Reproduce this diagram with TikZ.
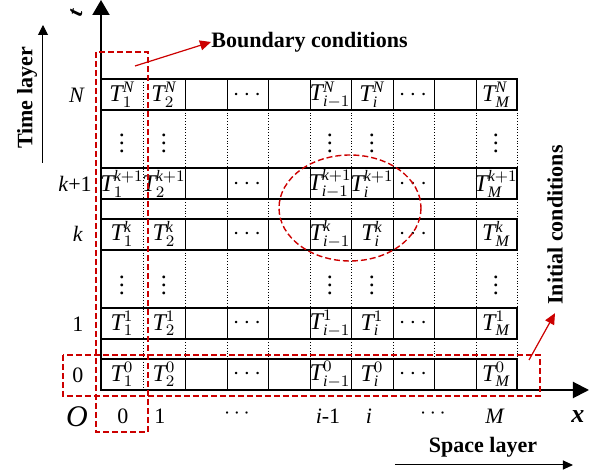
\documentclass[tikz,border=0pt]{standalone}
\usepackage{fontspec}
\setmainfont{Liberation Serif}
\usetikzlibrary{arrows.meta}
\definecolor{bcred}{RGB}{204,0,0}

\begin{document}
\begin{tikzpicture}[x=0.5pt,y=-0.5pt,
  rowbox/.style={line width=1pt},
  gridline/.style={densely dotted,line width=0.4pt},
  cellline/.style={line width=0.4pt},
  redbox/.style={bcred,dash pattern=on 3pt off 1.5pt,line width=0.7pt},
  redarrow/.style={bcred,line width=0.6pt,-{Triangle[width=5pt,length=5.5pt]}},
  cell/.style={inner sep=0pt,font=\fontsize{12}{14}\selectfont},
  lab/.style={inner sep=0pt,font=\fontsize{11}{13}\selectfont},
  title/.style={inner sep=0pt,font=\bfseries\fontsize{11}{13}\selectfont}]

\useasboundingbox (0,0) rectangle (602,475);

% Grid
\foreach \x in {143,185,227,268,310,351,393,434,476,517}
  \draw[gridline] (\x,79) -- (\x,390);

% Rows
\foreach \y in {79,168,219,308,359} {
  \foreach \x in {185,227,268,310,351,393,434,476}
    \draw[cellline] (\x,\y) -- (\x,\y+31);
  \draw[rowbox] (101,\y) rectangle (517,\y+31);
}

% Cells
\foreach \r/\y/\s in {N/95/\mathit{N},kp/184/\mathit{k}+1,k/234/\mathit{k},one/323.5/1,zero/374.5/0} {
  \node[cell] (\r-1) at (122,\y) {$\mathit{T}_1^{\s}$};
  \node[cell] (\r-2) at (164,\y) {$\mathit{T}_2^{\s}$};
  \node[cell] (\r-da) at (247,\y) {$\cdots$};
  \node[cell] (\r-im) at (330,\y) {$\mathit{T}_{\mathit{i}-1}^{\s}$};
  \node[cell] (\r-i) at (372,\y) {$\mathit{T}_{\mathit{i}}^{\s}$};
  \node[cell] (\r-db) at (413,\y) {$\cdots$};
  \node[cell] (\r-M) at (496,\y) {$\mathit{T}_{\mathit{M}}^{\s}$};
}
\foreach \x in {122,164,330,372,496} {
  \node[cell] (vu-\x) at (\x,137) {$\vdots$};
  \node[cell] (vl-\x) at (\x,279) {$\vdots$};
}

% Axes
\coordinate (O) at (101,390);
\coordinate (tend) at (101,0);
\coordinate (xend) at (589,390);
\draw[line width=1pt,-{Triangle[width=8.5pt,length=7.5pt]}] (O) -- (tend);
\draw[line width=1pt,-{Triangle[width=8pt,length=8pt]}] (O) -- (xend);
\node[title,rotate=75] (tlab) at (76,13) {\textit{t}};
\node[title] (xlab) at (578,417) {\fontsize{13}{15}\selectfont\textit{x}};

% Layer labels
\node[lab] (lN) at (77,95) {\textit{N}};
\node[lab] (lkp) at (75,184) {\textit{k}+1};
\node[lab] (lk) at (78,234) {\textit{k}};
\node[lab] (l1) at (78,324) {1};
\node[lab] (l0) at (78,375) {0};
\node[lab] (bO) at (77,417) {\fontsize{15}{17}\selectfont\textit{O}};
\node[lab] (b0) at (123,416) {0};
\node[lab] (b1) at (160,416) {1};
\node[lab] (bda) at (237,414) {$\cdots$};
\node[lab] (bim) at (328,416) {\textit{i}-1};
\node[lab] (bi) at (369,416) {\textit{i}};
\node[lab] (bdb) at (433,414) {$\cdots$};
\node[lab] (bM) at (495,416) {\textit{M}};

% Time and space layers
\node[title,rotate=90] (time) at (27,98) {Time layer};
\coordinate (ta) at (43,163);
\coordinate (tb) at (43,25);
\draw[line width=0.5pt,-{Triangle[width=5pt,length=5pt]}] (ta) -- (tb);
\node[title] (space) at (483,447) {Space layer};
\coordinate (sa) at (395,465);
\coordinate (sb) at (573,465);
\draw[line width=0.5pt,-{Triangle[width=4.5pt,length=5pt]}] (sa) -- (sb);

% Boundary and initial conditions
\draw[redbox] (96,52) rectangle (148,432);
\draw[redbox] (63,355) rectangle (540,396);
\draw[redbox] (350,208) ellipse [x radius=71,y radius=53];
\node[title,anchor=west] (bc) at (211,42) {Boundary conditions};
\coordinate (bcs) at (135,66);
\draw[redarrow] (bcs) -- (bc.west);
\node[title,rotate=90] (ic) at (555,225) {Initial conditions};
\coordinate (ics) at (529,360);
\draw[redarrow] (ics) -- ([yshift=-4pt]ic.west);

\end{tikzpicture}
\end{document}
